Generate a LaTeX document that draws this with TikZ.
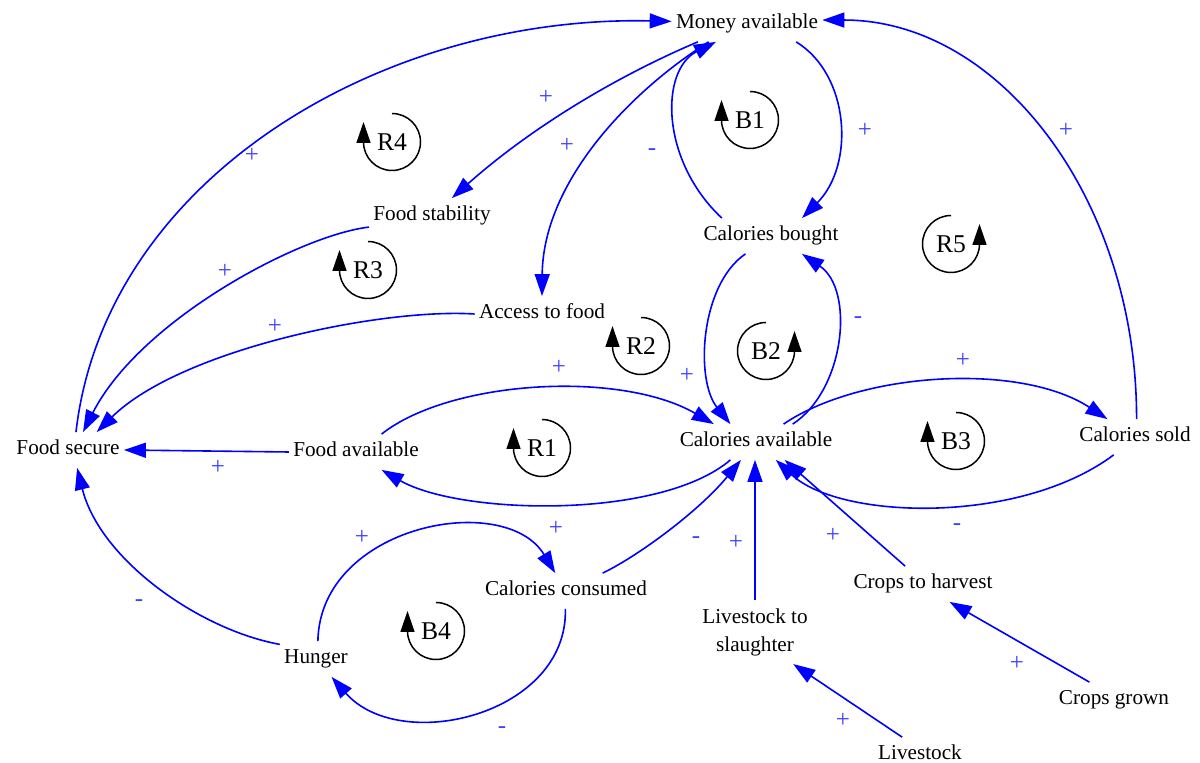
\documentclass[tikz,border=0pt]{standalone}
\usepackage{fontspec}
\setmainfont{Liberation Serif}
\usetikzlibrary{arrows.meta}
\newcommand{\lmleft}[3]{%
  \node[looplabel] (#1) at #2 {#3};
  \draw[loopmark] (#1.center) ++(0,-28.5) arc[start angle=90,end angle=-180,radius=14.25pt] -- ++(0,-20);
}
\newcommand{\lmright}[3]{%
  \node[looplabel] (#1) at #2 {#3};
  \draw[loopmark] (#1.center) ++(0,-28.5) arc[start angle=90,end angle=360,radius=14.25pt] -- ++(0,-20);
}
\begin{document}
\begin{tikzpicture}[x=0.5pt,y=-0.5pt,
  var/.style={inner xsep=2pt, inner ysep=4pt, font=\fontsize{10.6}{13.5}\selectfont, text height=7.2pt, text depth=2.3pt},
  var2/.style={inner xsep=2pt, inner ysep=4pt, align=center, font=\fontsize{10.6}{14}\selectfont},
  link/.style={draw=blue, line width=0.8pt, -{Triangle[length=11pt,width=7.5pt]}},
  pol/.style={text=blue!75!white, font=\fontsize{12.5}{14}\selectfont, inner sep=0pt},
  loopmark/.style={draw=black, line width=0.75pt, -{Triangle[length=10.5pt,width=7pt]}},
  looplabel/.style={font=\fontsize{12.8}{14}\selectfont, inner sep=0pt}
]
\useasboundingbox (0,0) rectangle (1200,763);

% variables
\node[var] (money) at (747,24) {Money available};
\node[var] (stab) at (432,216) {Food stability};
\node[var] (access) at (542,314) {Access to food};
\node[var] (bought) at (771,236) {Calories bought};
\node[var] (secure) at (68,450) {Food secure};
\node[var] (favail) at (356,452) {Food available};
\node[var] (calav) at (756,442) {Calories available};
\node[var] (sold) at (1135,437) {Calories sold};
\node[var] (consumed) at (566,591) {Calories consumed};
\node[var] (hunger) at (316,659) {Hunger};
\node[var2] (livesl) at (755,632) {Livestock to\\slaughter};
\node[var] (harvest) at (923,584) {Crops to harvest};
\node[var] (grown) at (1114,700) {Crops grown};
\node[var] (livestock) at (920,755) {Livestock};

% links
\draw[link] (secure.66) .. controls (105,180) and (380,15) .. (money.178);
\draw[link] (money.200) .. controls (608,80) and (525,133) .. (stab.42);
\draw[link] (money.205) .. controls (625,95) and (543,185) .. (access.north);
\draw[link] (bought.160) .. controls (660,160) and (660,70) .. (money.210);
\draw[link] (money.340) .. controls (850,75) and (855,165) .. (bought.30);
\draw[link] (sold.85) .. controls (1137,200) and (1000,20) .. (money.3);
\draw[link] (stab.190) .. controls (300,235) and (140,320) .. (secure.50);
\draw[link] (access.180) .. controls (380,308) and (180,350) .. (secure.32);
\draw[link] (favail.west) -- (secure.east);
\draw[link] (hunger.158) .. controls (200,630) and (100,560) .. (secure.297);
\draw[link] (favail.35) .. controls (450,380) and (620,370) .. (calav.157);
\draw[link] (calav.215) .. controls (660,520) and (460,515) .. (favail.325);
\draw[link] (bought.215) .. controls (700,285) and (695,380) .. (calav.145);
\draw[link] (calav.26) .. controls (845,390) and (855,290) .. (bought.330);
\draw[link] (calav.33) .. controls (860,372) and (1020,362) .. (sold.147);
\draw[link] (sold.220) .. controls (1020,525) and (840,520) .. (calav.318);
\draw[link] (harvest.135) -- (calav.328);
\draw[link] (livesl.north) -- (livesl.north |- calav.south);
\draw[link] (consumed.26) .. controls (640,555) and (700,510) .. (calav.230);
\draw[link] (hunger.84) .. controls (320,525) and (505,490) .. (consumed.121);
\draw[link] (consumed.268) .. controls (568,715) and (400,755) .. (hunger.311);
\draw[link] (grown.144) -- (harvest.326);
\draw[link] (livestock.135) -- (livesl.320);

% polarities
\node[pol] (p1) at (252,155) {+};
\node[pol] (p2) at (546,97) {+};
\node[pol] (p3) at (567,145) {+};
\node[pol] (p4) at (652,152) {-};
\node[pol] (p5) at (865,130) {+};
\node[pol] (p6) at (1066,130) {+};
\node[pol] (p7) at (225,271) {+};
\node[pol] (p8) at (275,326) {+};
\node[pol] (p9) at (218,467) {+};
\node[pol] (p10) at (139,603) {-};
\node[pol] (p11) at (559,367) {+};
\node[pol] (p12) at (556,528) {+};
\node[pol] (p13) at (687,375) {+};
\node[pol] (p14) at (858,320) {-};
\node[pol] (p15) at (963,360) {+};
\node[pol] (p16) at (957,527) {-};
\node[pol] (p17) at (833,535) {+};
\node[pol] (p18) at (736,542) {+};
\node[pol] (p19) at (696,540) {-};
\node[pol] (p20) at (362,537) {+};
\node[pol] (p21) at (502,730) {-};
\node[pol] (p22) at (1017,663) {+};
\node[pol] (p23) at (843,720) {+};

% loop markers
\lmleft{R4}{(392,142)}{R4}
\lmleft{B1}{(750,120)}{B1}
\lmleft{R3}{(368,270)}{R3}
\lmright{R5}{(951,244)}{R5}
\lmleft{R2}{(641,346)}{R2}
\lmright{B2}{(766,351)}{B2}
\lmleft{R1}{(542,448)}{R1}
\lmleft{B3}{(956,441)}{B3}
\lmleft{B4}{(436,631)}{B4}
\end{tikzpicture}
\end{document}
